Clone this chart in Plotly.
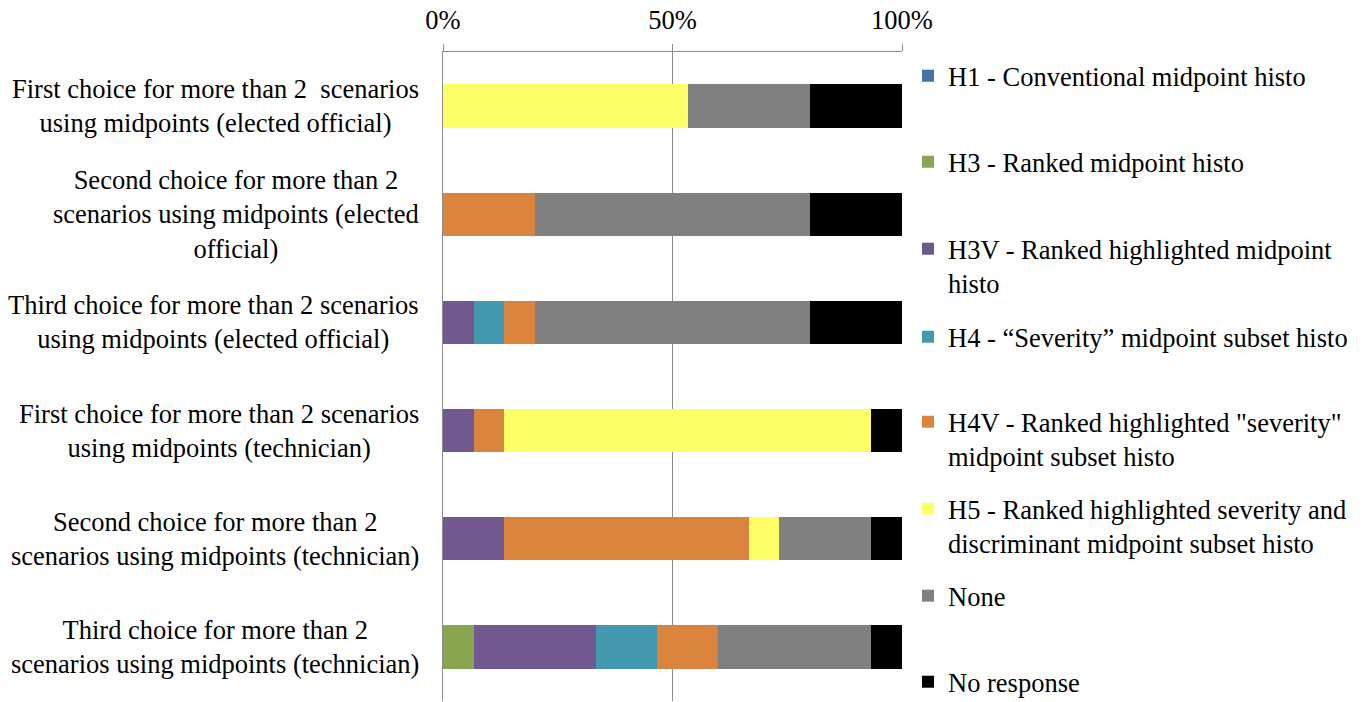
import plotly.graph_objects as go

categories = [
    "First choice for more than 2  scenarios<br>using midpoints (elected official)",
    "Second choice for more than 2<br>scenarios using midpoints (elected<br>official)",
    "Third choice for more than 2 scenarios<br>using midpoints (elected official)",
    "First choice for more than 2 scenarios<br>using midpoints (technician)",
    "Second choice for more than 2<br>scenarios using midpoints (technician)",
    "Third choice for more than 2<br>scenarios using midpoints (technician)",
]

series_names = [
    "H1 - Conventional midpoint histo",
    "H3 - Ranked midpoint histo",
    "H3V - Ranked highlighted midpoint<br>histo",
    "H4 - \u201cSeverity\u201d midpoint subset histo",
    "H4V - Ranked highlighted \"severity\"<br>midpoint subset histo",
    "H5 - Ranked highlighted severity and<br>discriminant midpoint subset histo",
    "None",
    "No response",
]

# percentages per category (top to bottom)
h1 = [0, 0, 0, 0, 0, 0]
h3 = [0, 0, 0, 0, 0, 6.7]
h3v = [0, 0, 6.7, 6.7, 13.3, 26.7]
h4 = [0, 0, 6.7, 0, 0, 13.3]
h4v = [0, 20, 6.7, 6.7, 53.3, 13.3]
h5 = [53.3, 0, 0, 80, 6.7, 0]
none = [26.7, 60, 60, 0, 20, 33.3]
no_response = [20, 20, 20, 6.7, 6.7, 6.7]

series_values = [h1, h3, h3v, h4, h4v, h5, none, no_response]
colors = ["#4572A7", "#89A54E", "#71588F", "#4198AF", "#DB843D", "#FFFF66", "#808080", "#000000"]

tick_vals = [0, 50, 100]
tick_text = ["0%", "50%", "100%"]

FONT = "Liberation Serif, DejaVu Serif, serif"
FS = 26.5
W, H = 1365, 702
L, R, T, B = 443, 463, 52, 1
PW, PH = W - L - R, H - T - B

fig = go.Figure()
legend_centers_px = [77, 163, 250, 338, 423, 510, 597, 683]

for i, (name, vals, col) in enumerate(zip(series_names, series_values, colors)):
    lg = "legend" if i == 0 else f"legend{i+1}"
    fig.add_trace(go.Bar(
        y=categories, x=vals, name=name, orientation="h",
        marker=dict(color=col, line=dict(width=0)),
        legend=lg, showlegend=True,
    ))

layout_legends = {}
for i, c in enumerate(legend_centers_px):
    key = "legend" if i == 0 else f"legend{i+1}"
    layout_legends[key] = dict(
        x=(908 - L) / PW, xref="paper", xanchor="left",
        y=1 - (c - 25 - T) / PH, yref="paper", yanchor="top",
        font=dict(family=FONT, size=FS, color="black"),
        bgcolor="rgba(0,0,0,0)", borderwidth=0, valign="top",
    )

annotations = []
for cat in categories:
    annotations.append(dict(
        x=0, xref="paper", y=cat, yref="y", text=cat, showarrow=False,
        xanchor="right", xshift=-22, align="center",
        font=dict(family=FONT, size=FS, color="black"),
    ))

fig.update_layout(
    width=W, height=H,
    barmode="stack", barnorm="percent", bargap=0.6,
    margin=dict(l=L, r=R, t=T, b=B, autoexpand=False),
    plot_bgcolor="white", paper_bgcolor="white",
    font=dict(family=FONT, size=FS, color="black"),
    xaxis=dict(
        side="top", range=[0, 100], tickvals=tick_vals, ticktext=tick_text,
        showgrid=True, gridcolor="#8C8C8C", gridwidth=1,
        zeroline=False, showline=True, linecolor="#8C8C8C", linewidth=1,
        ticks="outside", ticklen=7, tickcolor="#8C8C8C",
        ticklabelstandoff=4,
        tickfont=dict(family=FONT, size=FS, color="black"),
        automargin=False,
    ),
    yaxis=dict(
        autorange="reversed", showticklabels=False, showgrid=False,
        zeroline=False, showline=True, linecolor="#8C8C8C", linewidth=1, ticks="",
        automargin=False,
    ),
    annotations=annotations,
    **layout_legends,
)

fig.write_html("out.html", config={"displayModeBar": False},
               post_script="document.body.style.margin='0';")
